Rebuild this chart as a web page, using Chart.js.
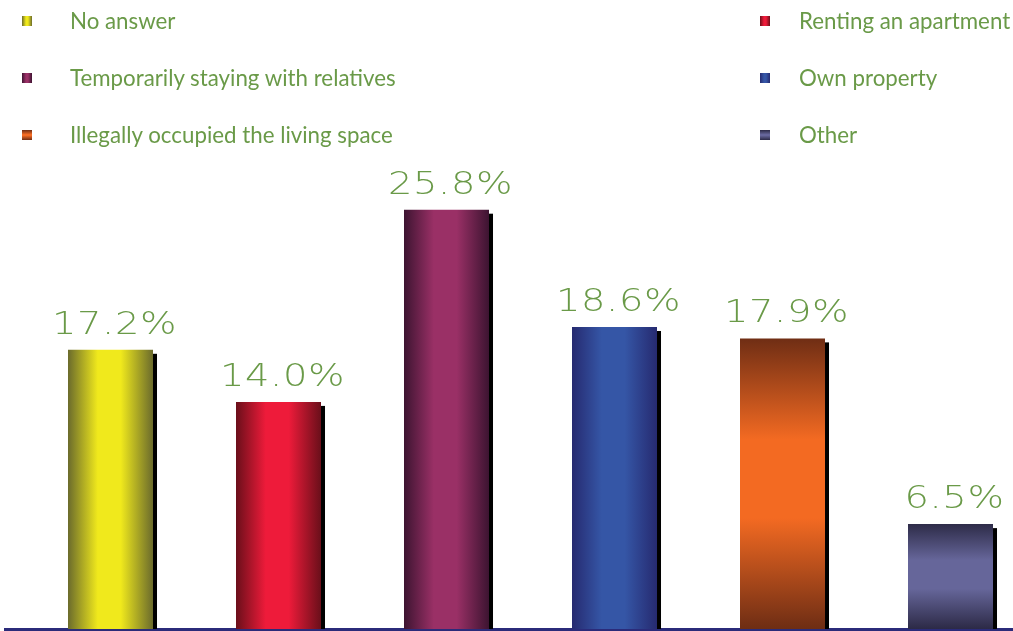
<!DOCTYPE html>
<html>
<head>
<meta charset="utf-8">
<script src="https://cdn.jsdelivr.net/npm/chart.js@4"></script>
<style>
  html, body { margin: 0; padding: 0; background: #fff; overflow: hidden; }
  #wrap { position: relative; width: 1013px; height: 631px; }
  #legend { position: absolute; left: 0; top: 0; width: 1013px; height: 150px; }
  .item { position: absolute; font-family: Lato, 'Open Sans', sans-serif; font-size: 22.3px; color: #6a9a48; white-space: nowrap; line-height: 24px; }
  .box { position: absolute; width: 10px; height: 10px; }
</style>
</head>
<body>
<div id="wrap">
  <canvas id="chart" width="1013" height="631"></canvas>
  <div id="legend"></div>
</div>
<script>
const labels = ['No answer', 'Renting an apartment', 'Temporarily staying with relatives', 'Own property', 'Illegally occupied the living space', 'Other'];
const values = [17.2, 14.0, 25.8, 18.6, 17.9, 6.5];
const edgeColors = ['#6b6b2c', '#6a0f1a', '#3d1431', '#262a70', '#6e2d14', '#2c2a46'];
const midColors = ['#f0e91c', '#ee1b3a', '#9a3066', '#3556a6', '#f36a22', '#66669a'];
const gradientDir = ['h', 'h', 'h', 'h', 'v', 'v'];

const labelColor = '#6a9a48';

// legend: two columns, row-major in data order
const legend = document.getElementById('legend');
labels.forEach((label, i) => {
  const col = i % 2, row = Math.floor(i / 2);
  const cy = 21 + row * 57;
  const box = document.createElement('div');
  box.className = 'box';
  box.style.left = (col ? 760 : 22) + 'px';
  box.style.top = (cy - 5) + 'px';
  box.style.background = gradientDir[i] === 'h'
    ? `linear-gradient(to right, ${edgeColors[i]}, ${midColors[i]} 40%, ${midColors[i]} 60%, ${edgeColors[i]})`
    : `linear-gradient(to bottom, ${edgeColors[i]}, ${midColors[i]} 45%, ${midColors[i]} 55%, ${edgeColors[i]})`;
  legend.appendChild(box);
  const txt = document.createElement('div');
  txt.className = 'item';
  txt.style.left = (col ? 799 : 70) + 'px';
  txt.style.top = (cy - 12) + 'px';
  txt.textContent = label;
  legend.appendChild(txt);
});

function barFill(ctx) {
  const chart = ctx.chart;
  const i = ctx.dataIndex;
  const el = chart.getDatasetMeta(0).data[i];
  if (!chart.chartArea || !el || !el.width) return midColors[i];
  let g;
  if (gradientDir[i] === 'h') {
    const half = el.width / 2;
    g = chart.ctx.createLinearGradient(el.x - half, 0, el.x + half, 0);
  } else {
    g = chart.ctx.createLinearGradient(0, el.y, 0, el.base);
  }
  g.addColorStop(0, edgeColors[i]);
  g.addColorStop(0.35, midColors[i]);
  g.addColorStop(0.62, midColors[i]);
  g.addColorStop(1, edgeColors[i]);
  return g;
}

const barExtras = {
  id: 'barExtras',
  afterLayout(chart) {
    // once the bars have positions, resolve the gradients against them
    if (!chart.$gradDone) { chart.$gradDone = true; setTimeout(() => chart.update('none'), 0); }
  },
  beforeDatasetsDraw(chart) {
    const ctx = chart.ctx;
    ctx.save();
    ctx.fillStyle = '#000';
    chart.getDatasetMeta(0).data.forEach(el => {
      ctx.fillRect(el.x + el.width / 2, el.y + 5, 4, el.base - el.y - 5);
    });
    ctx.restore();
  },
  afterDatasetsDraw(chart) {
    const ctx = chart.ctx;
    ctx.save();
    ctx.font = '200 32px "DejaVu Sans"';
    ctx.letterSpacing = '0.5px';
    ctx.fillStyle = labelColor;
    ctx.textAlign = 'center';
    ctx.textBaseline = 'alphabetic';
    chart.getDatasetMeta(0).data.forEach((el, i) => {
      ctx.save();
      ctx.translate(el.x + 4, el.y - 15);
      ctx.scale(1.2, 1);
      ctx.fillText(values[i].toFixed(1) + '%', 0, 0);
      ctx.restore();
    });
    ctx.restore();
  }
};

new Chart(document.getElementById('chart'), {
  type: 'bar',
  data: {
    datasets: [{
      data: values.map((v, i) => ({ x: i, y: v })),
      backgroundColor: barFill,
      borderColor: 'rgba(255,255,255,0.7)',
      borderWidth: { top: 1, left: 0, right: 0, bottom: 0 },
      borderSkipped: 'bottom',
      barPercentage: 0.506,
      categoryPercentage: 1
    }]
  },
  options: {
    responsive: false,
    animation: false,
    layout: { padding: { top: 159, left: 5, right: 0, bottom: 2 } },
    plugins: { legend: { display: false }, tooltip: { enabled: false } },
    scales: {
      x: {
        type: 'linear', min: -0.628, max: 5.372, offset: false,
        ticks: { display: false, stepSize: 1, includeBounds: false },
        grid: { display: false, drawTicks: false },
        border: { display: true, color: '#2b2b7a', width: 3 }
      },
      y: { display: false, min: 0, max: 28.85 }
    }
  },
  plugins: [barExtras]
});
</script>
</body>
</html>
